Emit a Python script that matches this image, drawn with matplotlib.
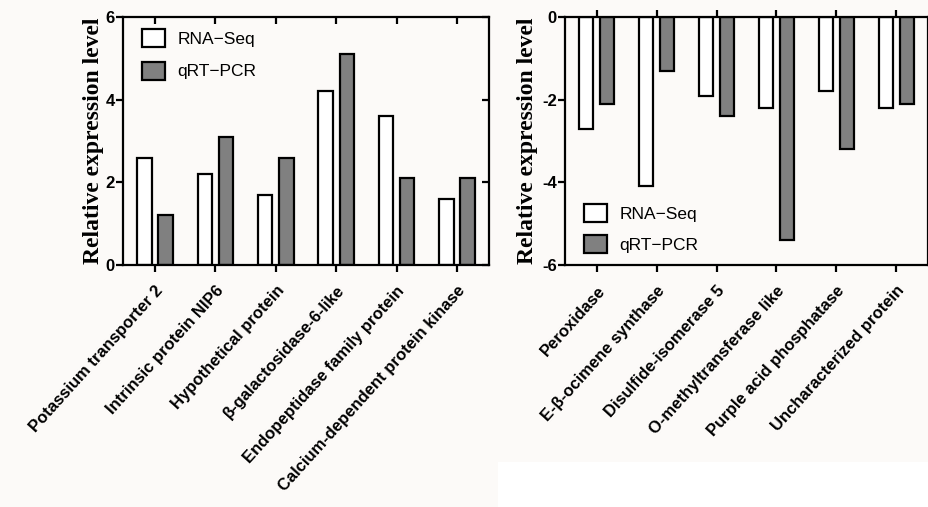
import numpy as np
import matplotlib
matplotlib.use("Agg")
import matplotlib.pyplot as plt
from matplotlib.patches import Rectangle

plt.rcParams["axes.unicode_minus"] = False

# up-regulated genes (left panel)
up_genes = ["Potassium transporter 2", "Intrinsic protein NIP6", "Hypothetical protein",
            "\u03b2-galactosidase-6-like", "Endopeptidase family protein",
            "Calcium-dependent protein kinase"]
up_rnaseq = [2.6, 2.2, 1.7, 4.2, 3.6, 1.6]
up_qrtpcr = [1.2, 3.1, 2.6, 5.1, 2.1, 2.1]

# down-regulated genes (right panel)
down_genes = ["Peroxidase", "E-\u03b2-ocimene synthase", "Disulfide-isomerase 5",
              "O-methyltransferase like", "Purple acid phosphatase", "Uncharacterized protein"]
down_rnaseq = [-2.7, -4.1, -1.9, -2.2, -1.8, -2.2]
down_qrtpcr = [-2.1, -1.3, -2.4, -5.4, -3.2, -2.1]

series_names = ["RNA\u2212Seq", "qRT\u2212PCR"]

bg = "#fcfaf8"
grey = "#808080"
lw = 1.6

fig = plt.figure(figsize=(9.29, 5.07), dpi=100, facecolor=bg)
# white strip in lower right corner of the original image
fig.patches.append(Rectangle((498 / 929, 0), 1, 45 / 507, transform=fig.transFigure,
                             facecolor="white", edgecolor="none", zorder=-1))

ax1 = fig.add_axes([123 / 929, 1 - 265 / 507, 366 / 929, 248 / 507])
ax2 = fig.add_axes([565 / 929, 1 - 265 / 507, 363 / 929, 248 / 507])


def draw(ax, genes, rna, qpcr):
    ind = np.arange(len(genes))
    w = 0.24
    ax.bar(ind - 0.175, rna, w, color="white", edgecolor="black", linewidth=lw,
           label=series_names[0])
    ax.bar(ind + 0.175, qpcr, w, color=grey, edgecolor="black", linewidth=lw,
           label=series_names[1])
    ax.set_facecolor(bg)
    ax.set_xlim(-0.53, 5.53)
    ax.set_xticks(ind)
    ax.set_xticklabels(genes, rotation=48, ha="right", va="top", rotation_mode="anchor",
                       family="Liberation Sans", fontweight="bold", fontsize=12.5)
    for s in ax.spines.values():
        s.set_linewidth(lw)
    ax.set_ylabel("Relative expression level", family="Liberation Serif",
                  fontweight="bold", fontsize=17)


draw(ax1, up_genes, up_rnaseq, up_qrtpcr)
ax1.set_ylim(0, 6)
ax1.set_yticks([0, 2, 4, 6])
ax1.tick_params(axis="both", which="major", length=5, width=lw, labelsize=12, pad=1)
ax1.tick_params(axis="x", top=True, pad=8)
ax1.tick_params(axis="y", right=True)
for t in ax1.xaxis.get_major_ticks():
    t.tick2line.set_marker(3)  # top ticks inward
for t in ax1.yaxis.get_major_ticks():
    t.tick2line.set_marker(0)  # right ticks inward
ax1.yaxis.labelpad = 1
ax1.legend(loc="upper left", frameon=False, prop={"family": "Liberation Sans", "size": 12.5},
           handlelength=1.3, handleheight=1.2, labelspacing=0.85, handletextpad=0.7,
           bbox_to_anchor=(0.02, 1.0), borderaxespad=0.3)

draw(ax2, down_genes, down_rnaseq, down_qrtpcr)
ax2.set_ylim(-6, 0)
ax2.set_yticks([0, -2, -4, -6])
ax2.tick_params(axis="both", which="major", length=5, width=lw, labelsize=12, pad=1)
ax2.tick_params(axis="x", top=True, direction="out", pad=8)
ax2.yaxis.labelpad = 3
for ax in (ax1, ax2):
    for lab in ax.get_yticklabels():
        lab.set_family("Liberation Sans")
        lab.set_fontweight("bold")
ax2.legend(loc="lower left", frameon=False, prop={"family": "Liberation Sans", "size": 12.5},
           handlelength=1.3, handleheight=1.2, labelspacing=0.75, handletextpad=0.7,
           bbox_to_anchor=(0.02, 0.0), borderaxespad=0.3)

fig.savefig("out.png", dpi=100, facecolor=bg)
plt.close(fig)
